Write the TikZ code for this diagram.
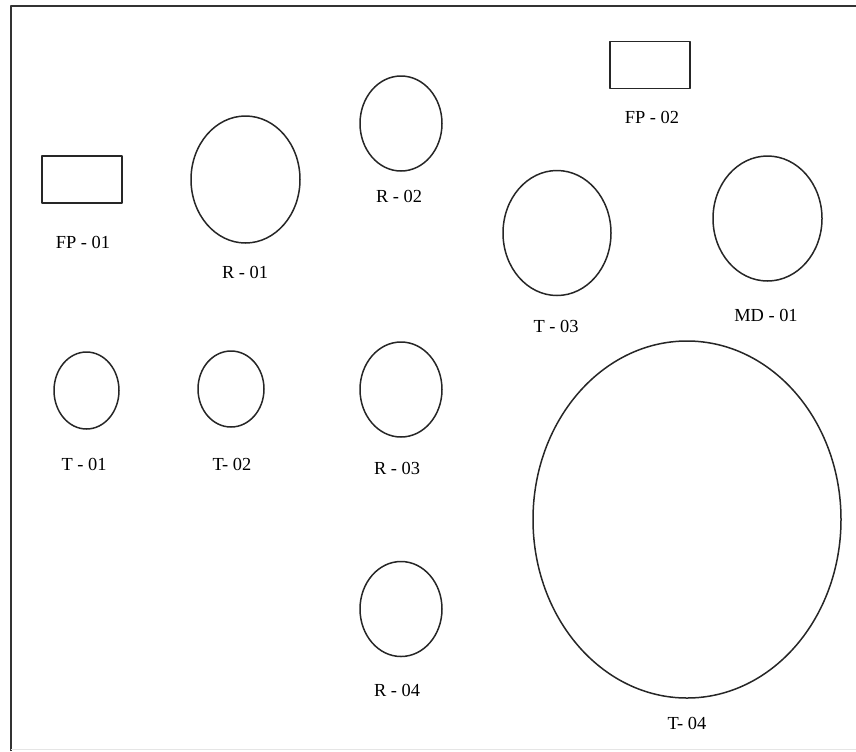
\documentclass[tikz,border=0pt]{standalone}
\usepackage{fontspec}
\setmainfont{Liberation Serif}
\usetikzlibrary{shapes.geometric}
\tikzset{
	vessel/.style={draw,ellipse,line width=0.75pt,black!85,text=black,inner sep=0pt},
	pump/.style={draw,rectangle,line width=0.9pt,black!85,inner sep=0pt,minimum width=40pt,minimum height=23.5pt},
	tag/.style={inner sep=0pt}
}
\begin{document}
\begin{tikzpicture}[line join=round,x=0.5pt,y=-0.5pt,font=\fontsize{9.2}{11}\selectfont]
	\useasboundingbox (0,0) rectangle (856,751);
	\draw[line width=1pt,black!80] (10.5,751)--(10.5,6)--(856,6);
	\draw[line width=0.6pt,black!10] (10.5,749.5)--(856,749.5);
	% pumps
	\node[pump] (fp1) at (82,179.5) {};
	\node[pump] (fp2) at (650,65) {};
	% reactors, tanks, drum
	\foreach \n/\x/\y/\w/\h in {r1/245.5/179.5/109/127, r2/401/123.5/82/95, t3/557/233/108/125,
		md1/767.5/218.5/109/125, t1/86.5/390.5/65/77, t2/231/389/66/76, r3/401/389.5/82/95,
		r4/401/609/82/95, t4/687/519.5/308/357}
		\node[vessel,minimum width=\w*0.5pt,minimum height=\h*0.5pt] (\n) at (\x,\y) {};
	% names
	\foreach \n/\x/\y/\t in {fp1/83/242/{FP - 01}, fp2/652/117/{FP - 02}, r1/245/272/{R - 01},
		r2/399/196/{R - 02}, t3/556/326/{T - 03}, md1/766/315/{MD - 01}, t1/84/464/{T - 01},
		t2/232/464/{T- 02}, r3/397/468/{R - 03}, r4/397/690/{R - 04}, t4/687/723/{T- 04}}
		\node[tag] (\n-name) at (\x,\y) {\t};
\end{tikzpicture}
\end{document}
